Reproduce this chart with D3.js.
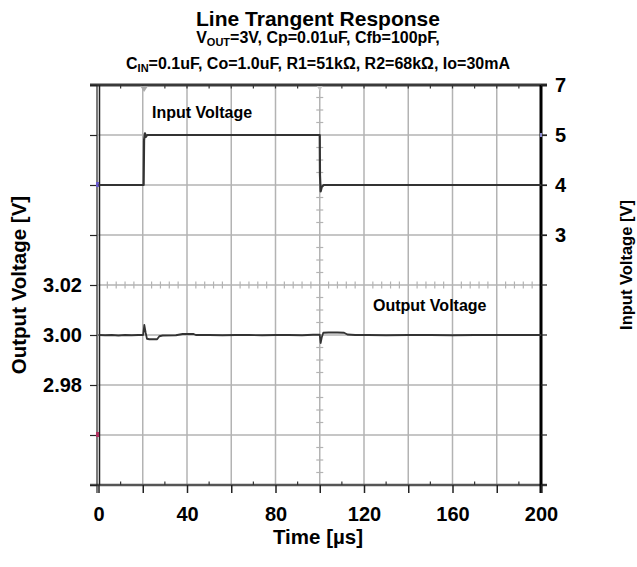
<!DOCTYPE html>
<html>
<head>
<meta charset="utf-8">
<script src="https://cdn.jsdelivr.net/npm/d3@7/dist/d3.min.js"></script>
<style>
  html, body { margin: 0; padding: 0; background: #fff; }
  svg { display: block; font-family: Arial, "Liberation Sans", sans-serif; }
</style>
</head>
<body>
<svg id="chart" width="637" height="567"></svg>
<script>
// ---------------- data ----------------
const timeTicks = [0, 40, 80, 120, 160, 200];
const outTickLabels = [2.98, 3.00, 3.02];
const inTickLabels = [3, 4, 5, 7];

const inT = [0, 20.4, 20.6, 21.0, 21.4, 22.0, 100.0, 100.1, 100.4, 100.9, 101.8, 200];
const inV = [4.0, 4.0, 4.9, 5.07, 4.96, 5.0, 5.0, 4.2, 3.87, 3.96, 4.0, 4.0];

const outT = [0, 3, 6, 9, 12, 15, 18, 20.2, 20.7, 21.3, 21.9, 23, 26.5, 27.5, 29, 35, 38, 43, 44, 50, 56, 62, 68, 74, 80, 86, 92, 97, 100.0, 100.4, 100.9, 101.6, 104, 108, 111, 112.5, 116, 122, 130, 140, 150, 160, 170, 180, 190, 200];
const outV = [3.0000, 2.9999, 3.0000, 2.9998, 3.0000, 2.9999, 3.0000, 3.0000, 3.0040, 3.0010, 2.9985, 2.9983, 2.9983, 2.9995, 2.9998, 2.9999, 3.0004, 3.0004, 3.0000, 3.0000, 2.9999, 3.0000, 3.0000, 2.9999, 3.0000, 3.0000, 2.9999, 3.0001, 3.0001, 2.9968, 2.9990, 3.0009, 3.0010, 3.0010, 3.0009, 3.0002, 3.0000, 3.0000, 2.9999, 3.0000, 3.0000, 2.9999, 3.0000, 3.0000, 3.0000, 3.0000];

// ---------------- layout ----------------
const svg = d3.select("#chart");
const L = 98.5, R = 541, T = 85, B = 485;

const x = d3.scaleLinear().domain([0, 200]).range([L, R]);
const yOut = d3.scaleLinear().domain([2.94, 3.10]).range([B, T]);
const yIn = d3.scaleLinear().domain([-2, 5, 7]).range([B, 135, T]);

const divs = d3.range(0, 9).map(i => +(2.94 + i * 0.02).toFixed(2));
const gridX = d3.range(20, 200, 20);
const gridY = divs.slice(1, -1);

const FONT = 'Arial, "Liberation Sans", sans-serif';

// grid
const grid = svg.append("g").attr("stroke", "#b3b3b3").attr("stroke-width", 1.5);
grid.selectAll(".gx").data(gridX).join("line")
  .attr("x1", d => x(d)).attr("x2", d => x(d)).attr("y1", T).attr("y2", B);
grid.selectAll(".gy").data(gridY).join("line")
  .attr("x1", L).attr("x2", R).attr("y1", d => yOut(d)).attr("y2", d => yOut(d));

// center minor ticks
const minor = svg.append("g").attr("stroke", "#b3b3b3").attr("stroke-width", 1.2);
minor.selectAll(".mh").data(d3.range(4, 200, 4).filter(d => d % 20 !== 0)).join("line")
  .attr("x1", d => x(d)).attr("x2", d => x(d))
  .attr("y1", yOut(3.02) - 3.5).attr("y2", yOut(3.02) + 3.5);
minor.selectAll(".mv").data(d3.range(0, 32).map(i => 2.94 + i * 0.005).filter((d, i) => i % 4 !== 0)).join("line")
  .attr("x1", x(100) - 3.5).attr("x2", x(100) + 3.5)
  .attr("y1", d => yOut(d)).attr("y2", d => yOut(d));

// frame
svg.append("line").attr("x1", 90).attr("x2", 547).attr("y1", T).attr("y2", T)
  .attr("stroke", "#3a3a3a").attr("stroke-width", 3);
svg.append("line").attr("x1", 90).attr("x2", 547).attr("y1", B).attr("y2", B)
  .attr("stroke", "#555").attr("stroke-width", 2.5);
svg.append("line").attr("x1", 97).attr("x2", 97).attr("y1", T).attr("y2", B + 8)
  .attr("stroke", "#222").attr("stroke-width", 1.2);
svg.append("line").attr("x1", 99.5).attr("x2", 99.5).attr("y1", T).attr("y2", B)
  .attr("stroke", "#222").attr("stroke-width", 1.5);
svg.append("line").attr("x1", R).attr("x2", R).attr("y1", T).attr("y2", B + 8)
  .attr("stroke", "#000").attr("stroke-width", 3);

// small ticks on top/bottom edges
const edge = svg.append("g").attr("stroke", "#333").attr("stroke-width", 1.2);
edge.selectAll(".tt").data(d3.range(10, 200, 10)).join("line")
  .attr("x1", d => x(d)).attr("x2", d => x(d)).attr("y1", T).attr("y2", T + 3.5);
edge.selectAll(".bt").data(d3.range(10, 200, 20)).join("line")
  .attr("x1", d => x(d)).attr("x2", d => x(d)).attr("y1", B - 3.5).attr("y2", B);

// bottom axis
const xAxis = svg.append("g").attr("transform", `translate(0,${B})`)
  .call(d3.axisBottom(x).tickValues(d3.range(0, 201, 20))
    .tickFormat(d => timeTicks.includes(d) ? d : "").tickSize(8).tickPadding(14));
xAxis.select(".domain").remove();
xAxis.selectAll(".tick line").attr("stroke", "#222").attr("stroke-width", 1.5);
xAxis.selectAll(".tick text").attr("font-family", FONT).attr("font-weight", "bold")
  .attr("font-size", 20).attr("fill", "#000");

// left axis
const yAxisL = svg.append("g").attr("transform", `translate(97,0)`)
  .call(d3.axisLeft(yOut).tickValues(divs)
    .tickFormat(d => outTickLabels.some(v => Math.abs(v - d) < 1e-6) ? d3.format(".2f")(d) : "")
    .tickSize(7).tickPadding(8));
yAxisL.select(".domain").remove();
yAxisL.selectAll(".tick line").attr("stroke", "#222").attr("stroke-width", 1.2);
yAxisL.selectAll(".tick text").attr("font-family", FONT).attr("font-weight", "bold")
  .attr("font-size", 20).attr("fill", "#000");

// right axis: tick marks at every division, labels from input scale
svg.append("g").attr("stroke", "#222").attr("stroke-width", 1.2)
  .selectAll("line").data(divs).join("line")
  .attr("x1", R).attr("x2", R + 6).attr("y1", d => yOut(d)).attr("y2", d => yOut(d));
const yAxisR = svg.append("g").attr("transform", `translate(${R},0)`)
  .call(d3.axisRight(yIn).tickValues(inTickLabels).tickFormat(d3.format("d"))
    .tickSize(6).tickPadding(8));
yAxisR.select(".domain").remove();
yAxisR.selectAll(".tick line").attr("stroke", "#222").attr("stroke-width", 1.2);
yAxisR.selectAll(".tick text").attr("font-family", FONT).attr("font-weight", "bold")
  .attr("font-size", 20).attr("fill", "#000");

// channel markers
svg.append("rect").attr("x", 96).attr("y", yIn(4) - 3).attr("width", 3).attr("height", 5).attr("fill", "#6a5acd");
svg.append("rect").attr("x", 96).attr("y", yOut(2.96) - 3).attr("width", 3).attr("height", 5).attr("fill", "#b03060");
svg.append("rect").attr("x", R - 1).attr("y", yIn(5) - 2).attr("width", 2).attr("height", 4).attr("fill", "#8888cc");
svg.append("path")
  .attr("d", `M${x(20.6) - 4},${T + 1} L${x(20.6) + 4},${T + 1} L${x(20.6)},${T + 7} Z`)
  .attr("fill", "#aaa");
svg.append("path")
  .attr("d", `M${x(100) - 3},${T + 1} L${x(100) + 3},${T + 1} L${x(100)},${T + 6} Z`)
  .attr("fill", "#c8c8c8");

// traces
const inLine = d3.line().x((d, i) => x(inT[i])).y(d => yIn(d));
svg.append("path").attr("d", inLine(inV)).attr("fill", "none")
  .attr("stroke", "#333").attr("stroke-width", 2.2).attr("stroke-linejoin", "round");

const outLine = d3.line().x((d, i) => x(outT[i])).y(d => yOut(d));
svg.append("path").attr("d", outLine(outV)).attr("fill", "none")
  .attr("stroke", "#333").attr("stroke-width", 1.8).attr("stroke-linejoin", "round");

// annotations
svg.append("text").attr("x", 152).attr("y", 118).text("Input Voltage")
  .attr("font-family", FONT).attr("font-weight", "bold").attr("font-size", 16);
svg.append("text").attr("x", 373).attr("y", 311).text("Output Voltage")
  .attr("font-family", FONT).attr("font-weight", "bold").attr("font-size", 16);

// titles
svg.append("text").attr("x", 318).attr("y", 26).attr("text-anchor", "middle")
  .attr("font-family", FONT).attr("font-weight", "bold").attr("font-size", 21)
  .text("Line Trangent Response");
const sub1 = svg.append("text").attr("x", 318).attr("y", 43).attr("text-anchor", "middle")
  .attr("font-family", FONT).attr("font-weight", "bold").attr("font-size", 16);
sub1.append("tspan").text("V");
sub1.append("tspan").attr("font-size", 11).attr("dy", 3).text("OUT");
sub1.append("tspan").attr("dy", -3).text("=3V, Cp=0.01uF, Cfb=100pF,");
const sub2 = svg.append("text").attr("x", 318).attr("y", 69).attr("text-anchor", "middle")
  .attr("font-family", FONT).attr("font-weight", "bold").attr("font-size", 16);
sub2.append("tspan").text("C");
sub2.append("tspan").attr("font-size", 11).attr("dy", 3).text("IN");
sub2.append("tspan").attr("dy", -3).text("=0.1uF, Co=1.0uF, R1=51kΩ, R2=68kΩ, Io=30mA");

svg.append("text").attr("x", 318).attr("y", 544).attr("text-anchor", "middle")
  .attr("font-family", FONT).attr("font-weight", "bold").attr("font-size", 20.5)
  .text("Time [µs]");
svg.append("text").attr("transform", "translate(26,285) rotate(-90)").attr("text-anchor", "middle")
  .attr("font-family", FONT).attr("font-weight", "bold").attr("font-size", 20.5)
  .text("Output Voltage [V]");
svg.append("text").attr("transform", "translate(632,265) rotate(-90)").attr("text-anchor", "middle")
  .attr("font-family", FONT).attr("font-weight", "bold").attr("font-size", 16.5)
  .text("Input Voltage [V]");
</script>
</body>
</html>
